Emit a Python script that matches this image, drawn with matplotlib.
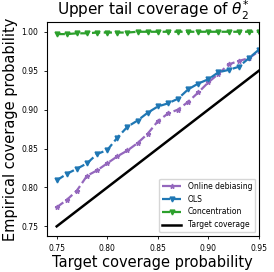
import numpy as np
import matplotlib
matplotlib.use("Agg")
import matplotlib.pyplot as plt

x = np.round(np.arange(0.75, 0.951, 0.01), 2)
online = [0.7745, 0.784, 0.796, 0.815, 0.822, 0.831, 0.840, 0.8475, 0.857, 0.869, 0.885,
          0.895, 0.900, 0.910, 0.922, 0.935, 0.946, 0.958, 0.9625, 0.966, 0.975]
ols = [0.809, 0.8175, 0.824, 0.831, 0.843, 0.848, 0.864, 0.878, 0.886, 0.896, 0.904,
       0.908, 0.914, 0.926, 0.9335, 0.939, 0.948, 0.951, 0.955, 0.966, 0.977]
conc = [0.997, 0.997, 0.998, 0.998, 0.999, 0.999, 0.999, 0.999, 1.0, 1.0, 1.0,
        1.0, 1.0, 1.0, 1.0, 1.0, 1.0, 1.0, 1.0, 1.0, 1.0]

fig = plt.figure(figsize=(2.74, 2.72), dpi=100)
ax = fig.add_axes([0.17, 0.132, 0.775, 0.787])
ax.plot(x, online, "--*", color="tab:purple", lw=1.6, ms=3.5, label="Online debiasing")
ax.plot(x, ols, "--v", color="tab:blue", lw=1.6, ms=3.5, label="OLS")
ax.plot(x, conc, "--v", color="tab:green", lw=1.6, ms=3.5, label="Concentration")
ax.plot(x, x, "-", color="black", lw=1.8, label="Target coverage")
ax.set_xlim(0.74, 0.95)
ax.set_ylim(0.7375, 1.0125)
ax.set_xticks([0.75, 0.80, 0.85, 0.90, 0.95])
ax.set_yticks([0.75, 0.80, 0.85, 0.90, 0.95, 1.00])
ax.tick_params(labelsize=5.5, length=2.5, width=0.6)
for s in ax.spines.values():
    s.set_linewidth(0.8)
ax.set_xlabel("Target coverage probability", fontsize=10.5, labelpad=1)
ax.set_ylabel("Empirical coverage probability", fontsize=10.5, labelpad=2)
ax.set_title(r"Upper tail coverage of $\theta_2^{*}$", fontsize=11, pad=3)
ax.legend(loc="lower right", fontsize=5.5, handlelength=2.5, borderpad=0.4, labelspacing=0.5)
fig.savefig("out.png", dpi=100)
